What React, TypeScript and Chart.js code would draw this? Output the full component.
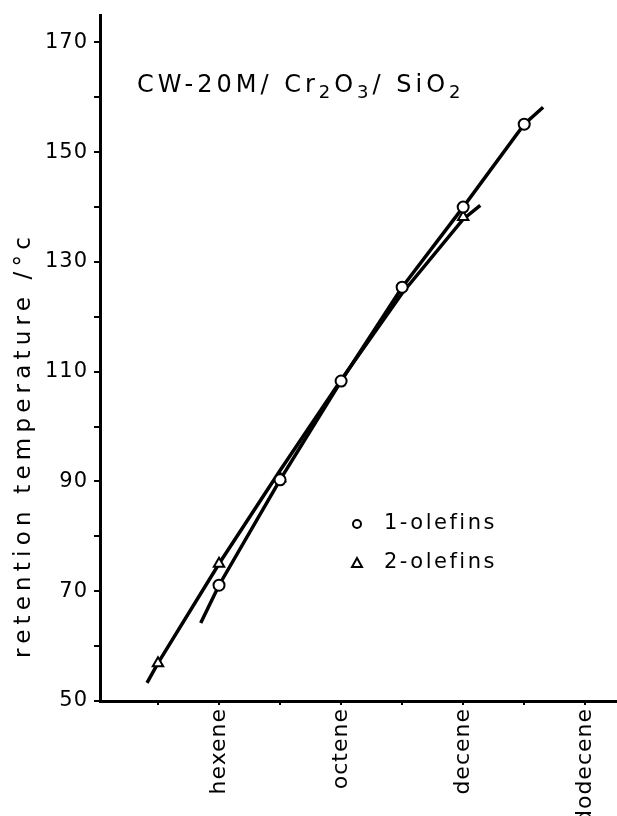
import React, { useEffect, useRef } from "react";
import { Chart, registerables } from "chart.js";

Chart.register(...registerables);

const FONT = '"DejaVu Sans", "Noto Sans", sans-serif';

// carbon numbers of the olefins on the x axis
const carbonNumbers = [5, 6, 7, 8, 9, 10, 11, 12];
const categories = ["pentene", "hexene", "heptene", "octene", "nonene", "decene", "undecene", "dodecene"];
const labelledCategories = ["hexene", "octene", "decene", "dodecene"];

// y ticks
const yTicks = [50, 60, 70, 80, 90, 100, 110, 120, 130, 140, 150, 160, 170];
const yLabelled = [50, 70, 90, 110, 130, 150, 170];

// measured points
const olefin1X = [6, 7, 8, 9, 10, 11];
const olefin1Y = [71.1, 90.3, 108.3, 125.4, 140.0, 155.1];
const olefin2X = [5, 6, 7, 10];
const olefin2Y = [56.9, 75.0, 90.6, 138.2];

// drawn fit lines
const fit1X = [5.7, 6, 7, 8, 9, 10, 11, 11.31];
const fit1Y = [64.2, 71.1, 90.3, 108.3, 125.4, 140.0, 155.1, 158.2];
const fit2X = [4.82, 5, 6, 7, 8, 9, 10, 10.28];
const fit2Y = [53.3, 56.9, 75.0, 92.0, 108.5, 124.3, 137.8, 140.3];

const legendLabels = ["1-olefins", "2-olefins"];
const titleParts: [string, boolean][] = [
  ["CW-20M/ Cr", false],
  ["2", true],
  ["O", false],
  ["3", true],
  ["/ SiO", false],
  ["2", true],
];
const yTitle = "retention temperature /°c";

const zip = (xs: number[], ys: number[]) => xs.map((x, i) => ({ x, y: ys[i] }));

const spacingPlugin = {
  id: "spacing",
  beforeLayout(chart: any) {
    (chart.ctx as any).letterSpacing = "1px";
  },
  beforeDraw(chart: any) {
    (chart.ctx as any).letterSpacing = "1px";
  },
};

const decorPlugin = {
  id: "decor",
  afterDatasetsDraw(chart: any) {
    const ctx = chart.ctx as CanvasRenderingContext2D;
    ctx.save();
    ctx.fillStyle = "#000";
    ctx.strokeStyle = "#000";
    // title
    let x = 137;
    const base = 92;
    ctx.textBaseline = "alphabetic";
    ctx.textAlign = "left";
    (ctx as any).letterSpacing = "4px";
    for (const [t, sub] of titleParts) {
      ctx.font = sub ? `18px ${FONT}` : `24px ${FONT}`;
      ctx.fillText(t, x, sub ? base + 6 : base);
      x += ctx.measureText(t).width;
    }
    // legend
    (ctx as any).letterSpacing = "2.5px";
    ctx.font = `21px ${FONT}`;
    ctx.textBaseline = "middle";
    const lx = 357;
    const rows = [524, 563];
    ctx.lineWidth = 2;
    ctx.beginPath();
    ctx.arc(lx, rows[0], 4, 0, Math.PI * 2);
    ctx.stroke();
    ctx.beginPath();
    ctx.moveTo(lx - 5, rows[1] + 4);
    ctx.lineTo(lx + 5, rows[1] + 4);
    ctx.lineTo(lx, rows[1] - 5);
    ctx.closePath();
    ctx.stroke();
    ctx.fillText(legendLabels[0], 384, rows[0]);
    ctx.fillText(legendLabels[1], 384, rows[1]);
    // y title
    (ctx as any).letterSpacing = "5.2px";
    ctx.translate(24, 445);
    ctx.rotate(-Math.PI / 2);
    ctx.textAlign = "center";
    ctx.font = `23px ${FONT}`;
    ctx.fillText(yTitle, 0, 0);
    ctx.restore();
  },
};

export default function App() {
  const ref = useRef<HTMLCanvasElement | null>(null);
  useEffect(() => {
    if (!ref.current) return;
    const chart = new Chart(ref.current, {
      type: "line",
      data: {
        datasets: [
          {
            label: "fit 2-olefins",
            data: zip(fit2X, fit2Y),
            borderColor: "#000",
            borderWidth: 3.5,
            pointRadius: 0,
            tension: 0,
            order: 4,
          },
          {
            label: "fit 1-olefins",
            data: zip(fit1X, fit1Y),
            borderColor: "#000",
            borderWidth: 3.5,
            pointRadius: 0,
            tension: 0,
            order: 3,
          },
          {
            label: "2-olefins",
            data: zip(olefin2X, olefin2Y),
            showLine: false,
            pointStyle: "triangle",
            pointRadius: 6,
            pointBackgroundColor: "#fff",
            pointBorderColor: "#000",
            pointBorderWidth: 2,
            order: 2,
          },
          {
            label: "1-olefins",
            data: zip(olefin1X, olefin1Y),
            showLine: false,
            pointStyle: "circle",
            pointRadius: 5.5,
            pointBackgroundColor: "#fff",
            pointBorderColor: "#000",
            pointBorderWidth: 2,
            order: 1,
          },
        ],
      },
      options: {
        animation: false,
        responsive: false,
        devicePixelRatio: 1,
        layout: { autoPadding: false, padding: { top: 15, right: 0, left: 0, bottom: 0 } },
        plugins: { legend: { display: false }, tooltip: { enabled: false }, title: { display: false } },
        scales: {
          x: {
            type: "linear",
            min: 4.05,
            max: 12.52,
            afterBuildTicks: (s: any) => {
              s.ticks = carbonNumbers.map((v) => ({ value: v }));
            },
            afterFit: (s: any) => {
              s.height = 115;
              s.paddingLeft = 0;
              s.paddingRight = 0;
            },
            grid: { drawOnChartArea: false, drawTicks: true, tickLength: 4, color: "#000", lineWidth: 2 },
            border: { display: true, color: "#000", width: 3 },
            ticks: {
              autoSkip: false,
              minRotation: 90,
              maxRotation: 90,
              padding: 3,
              color: "#000",
              font: { family: FONT, size: 22 },
              callback: (v: any) => {
                const i = carbonNumbers.indexOf(Number(v));
                const name = categories[i];
                return labelledCategories.includes(name) ? name : "";
              },
            },
          },
          y: {
            type: "linear",
            min: 50,
            max: 175,
            afterBuildTicks: (s: any) => {
              s.ticks = yTicks.map((v) => ({ value: v }));
            },
            afterFit: (s: any) => {
              s.width = 100;
              s.paddingTop = 0;
              s.paddingBottom = 0;
            },
            grid: { drawOnChartArea: false, drawTicks: true, tickLength: 6, color: "#000", lineWidth: 2 },
            border: { display: true, color: "#000", width: 3 },
            ticks: {
              autoSkip: false,
              padding: 6,
              color: "#000",
              font: { family: FONT, size: 21 },
              callback: (v: any) => (yLabelled.includes(Number(v)) ? String(v) : ""),
            },
          },
        },
      },
      plugins: [spacingPlugin, decorPlugin],
    } as any);
    return () => chart.destroy();
  }, []);
  return (
    <div style={{ position: "fixed", left: 0, top: 0, width: 617, height: 816, background: "#fff" }}>
      <canvas ref={ref} width={617} height={816} />
    </div>
  );
}
